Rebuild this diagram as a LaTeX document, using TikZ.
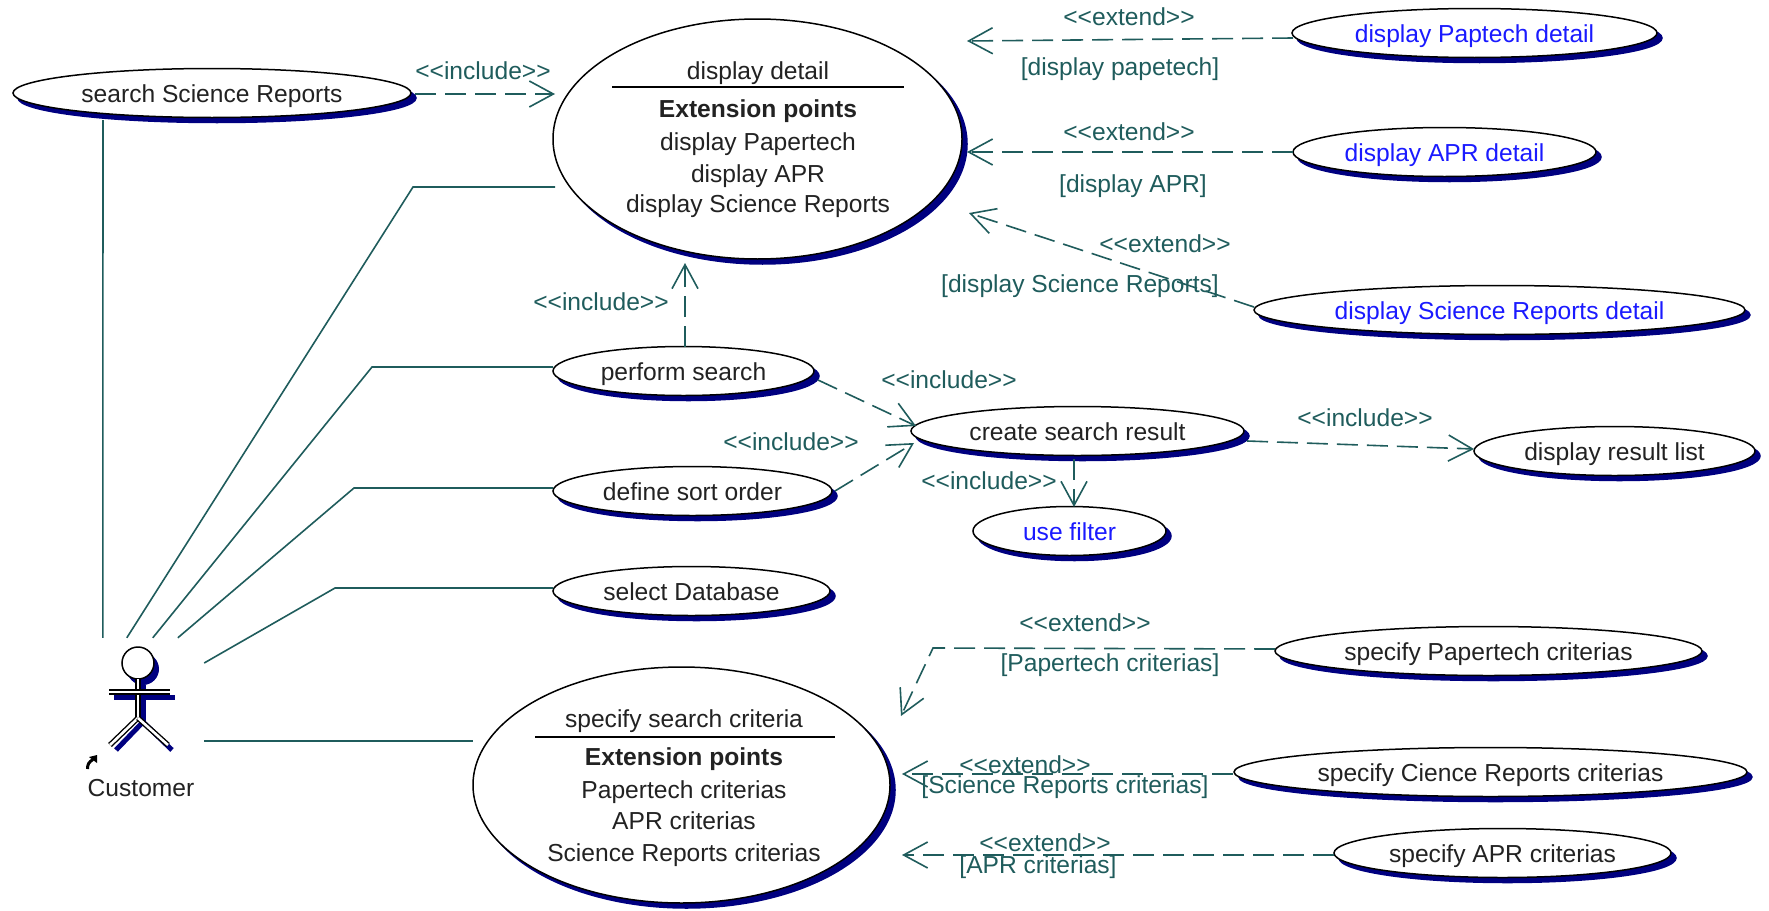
\documentclass[tikz,border=0pt]{standalone}
\usepackage{fontspec}
\setmainfont{Liberation Sans}
\usetikzlibrary{shapes.geometric,shadows,arrows.meta}
\definecolor{navyshadow}{HTML}{000080}
\definecolor{tealline}{HTML}{1F5C5C}
\definecolor{linkblue}{HTML}{1A1AFF}
\definecolor{inktext}{HTML}{222222}
\tikzset{
  x=1pt,y=-1pt,
  every node/.style={font=\fontsize{24.6}{28}\selectfont},
  uc/.style={ellipse,draw=black,line width=1.5pt,fill=white,inner sep=0pt,outer sep=0pt,text=inktext,
    text height=19pt,text depth=0.5pt,
    copy shadow={shadow xshift=5pt,shadow yshift=-5pt,fill=navyshadow,draw=navyshadow}},
  ucblue/.style={uc,text=linkblue},
  txt/.style={inner sep=0pt,text=inktext,text height=18pt,text depth=1.5pt},
  boldtxt/.style={txt,font=\fontsize{24.6}{28}\selectfont\bfseries},
  lab/.style={inner sep=0pt,text=tealline,text height=18pt,text depth=1.5pt},
  solidlink/.style={draw=tealline,line width=1.6pt},
  dep/.style={draw=tealline,line width=1.6pt,dash pattern=on 21pt off 9pt,
    -{Straight Barb[length=24pt,width=26pt,line width=1.6pt]}},
  actordbl/.style={draw=black,line width=1.4pt,double=white,double distance=2.6pt},
  actorshadow/.style={draw=navyshadow,line width=5pt},
}
\begin{document}
\begin{tikzpicture}
\path[use as bounding box] (0,0) rectangle (1769,910);

% use cases
\node[uc,minimum width=398pt,minimum height=49pt] (search) at (212,93) {search Science Reports};
\node[uc,minimum width=409pt,minimum height=240pt] (display) at (757.5,139) {};
\node[uc,minimum width=261pt,minimum height=49pt] (perform) at (683.5,371) {perform search};
\node[uc,minimum width=279pt,minimum height=49pt] (define) at (692.5,491) {define sort order};
\node[uc,minimum width=277pt,minimum height=49pt] (select) at (691.5,591) {select Database};
\node[uc,minimum width=333pt,minimum height=49pt] (create) at (1077.5,431) {create search result};
\node[ucblue,minimum width=193pt,minimum height=49pt] (filter) at (1069.5,531) {use filter};
\node[uc,minimum width=281pt,minimum height=49pt] (list) at (1614.5,451) {display result list};
\node[ucblue,minimum width=365pt,minimum height=49pt] (paptech) at (1474.5,33) {display Paptech detail};
\node[ucblue,minimum width=303pt,minimum height=49pt] (apr) at (1444.5,152) {display APR detail};
\node[ucblue,minimum width=491pt,minimum height=49pt] (scid) at (1499.5,310) {display Science Reports detail};
\node[uc,minimum width=427pt,minimum height=49pt] (spap) at (1488.5,651) {specify Papertech criterias};
\node[uc,minimum width=513pt,minimum height=49pt] (scie) at (1490.5,772) {specify Cience Reports criterias};
\node[uc,minimum width=337pt,minimum height=49pt] (sapr) at (1502.5,853) {specify APR criterias};
\node[uc,minimum width=417pt,minimum height=236pt] (specify) at (681.5,785) {};

% display detail compartment
\node[txt] (d1) at (758,71) {display detail};
\draw[black,line width=1.5pt] (612,87) coordinate (dl1) -- (904,87) coordinate (dl2);
\node[boldtxt] (d2) at (758,109) {Extension points};
\node[txt] (d3) at (758,142) {display Papertech};
\node[txt] (d4) at (758,174) {display APR};
\node[txt] (d5) at (758,204) {display Science Reports};

% specify search criteria compartment
\node[txt] (s1) at (684,719) {specify search criteria};
\draw[black,line width=1.5pt] (535,737) coordinate (sl1) -- (835,737) coordinate (sl2);
\node[boldtxt] (s2) at (684,757) {Extension points};
\node[txt] (s3) at (684,790) {Papertech criterias};
\node[txt] (s4) at (684,821) {APR criterias};
\node[txt] (s5) at (684,853) {Science Reports criterias};

% actor
\node[minimum width=132pt,minimum height=116pt,inner sep=0pt] (customer) at (138,696) {};
\fill[navyshadow] (143,669) circle (16pt);
\draw[actorshadow] (143,685) -- (143,722);
\draw[actorshadow] (114,697) -- (175,697);
\draw[actorshadow] (143,722) -- (116,750);
\draw[actorshadow] (143,722) -- (172,750);
\draw[black,line width=1.5pt,fill=white] (138,663) circle (16pt);
\draw[actordbl] (138,679) -- (138,718);
\draw[actordbl] (109,692) -- (170,692);
\draw[actordbl] (138,718) -- (110,745);
\draw[actordbl] (138,718) -- (168,745);
\fill[black] (89,757) -- (97,755) -- (97,763) -- cycle;
\draw[black,line width=3pt] (87.5,769) .. controls (87.5,764) and (89,762) .. (93,759.5);
\node[txt] (custlabel) at (141,788) {Customer};

% associations
\draw[solidlink] ([xshift=31pt]customer.north west) -- ([xshift=-109pt,yshift=-2.5pt]search.south);
\draw[solidlink] ([xshift=55pt]customer.north west) -- (413,187) -- ([xshift=2pt,yshift=-48pt]display.west);
\draw[solidlink] ([xshift=81pt]customer.north west) -- (372,367) -- ([yshift=4pt]perform.west);
\draw[solidlink] ([xshift=106pt]customer.north west) -- (354,488) -- ([yshift=3pt]define.west);
\draw[solidlink] ([yshift=33pt]customer.east) -- (335,588) -- ([yshift=3pt]select.west);
\draw[solidlink] ([yshift=-45pt]customer.east) -- ([yshift=44pt]specify.west);

% dependencies
\draw[dep] ([xshift=4pt,yshift=-1pt]search.east) -- ([xshift=2pt,yshift=45pt]display.west);
\draw[dep] ([xshift=1.5pt,yshift=-0.5pt]perform.north) -- ([xshift=-72.5pt,yshift=-4pt]display.south);
\draw[dep] ([xshift=4pt,yshift=-9pt]perform.east) -- ([xshift=5pt,yshift=5pt]create.west);
\draw[dep] ([xshift=3pt]define.east) -- ([xshift=3pt,yshift=-12pt]create.west);
\draw[dep] ([xshift=3pt,yshift=-10pt]create.east) -- ([yshift=2pt]list.west);
\draw[dep] ([xshift=-3.5pt,yshift=-3.5pt]create.south) -- ([xshift=4.5pt,yshift=-0.5pt]filter.north);
\draw[dep] ([xshift=1pt,yshift=-5pt]paptech.west) -- ([xshift=5pt,yshift=98pt]display.east);
\draw[dep] (apr.west) -- ([xshift=5pt,yshift=-13pt]display.east);
\draw[dep] ([yshift=3pt]scid.west) -- ([xshift=7pt,yshift=-74pt]display.east);
\draw[dep] ([yshift=2pt]spap.west) -- (933,648) -- ([xshift=11pt,yshift=69pt]specify.east);
\draw[dep] ([xshift=-1pt,yshift=-2pt]scie.west) -- ([xshift=12pt,yshift=11pt]specify.east);
\draw[dep] ([yshift=-2pt]sapr.west) -- ([xshift=12pt,yshift=-70pt]specify.east);

% labels
\node[lab] (l1) at (483,71) {<{}<include>{}>};
\node[lab] (l2) at (601,302) {<{}<include>{}>};
\node[lab] (l3) at (949,380) {<{}<include>{}>};
\node[lab] (l4) at (791,442) {<{}<include>{}>};
\node[lab] (l5) at (1365,418) {<{}<include>{}>};
\node[lab] (l6) at (989,481) {<{}<include>{}>};
\node[lab] (e1) at (1129,17) {<{}<extend>{}>};
\node[lab] (g1) at (1120,67) {[display papetech]};
\node[lab] (e2) at (1129,132) {<{}<extend>{}>};
\node[lab] (g2) at (1133,184) {[display APR]};
\node[lab] (e3) at (1165,244) {<{}<extend>{}>};
\node[lab] (g3) at (1080,284) {[display Science Reports]};
\node[lab] (e4) at (1085,623) {<{}<extend>{}>};
\node[lab] (g4) at (1110,663) {[Papertech criterias]};
\node[lab] (e5) at (1025,765) {<{}<extend>{}>};
\node[lab] (g5) at (1065,785) {[Science Reports criterias]};
\node[lab] (e6) at (1045,843) {<{}<extend>{}>};
\node[lab] (g6) at (1038,865) {[APR criterias]};
\end{tikzpicture}
\end{document}
